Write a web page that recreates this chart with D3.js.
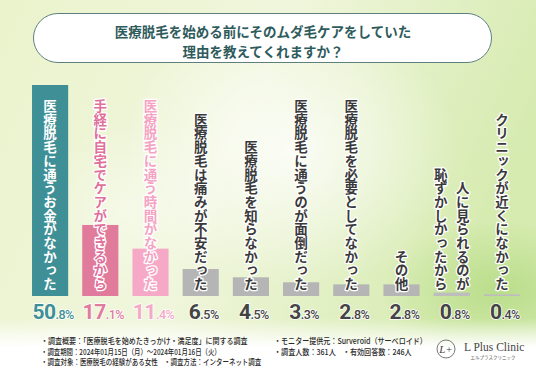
<!DOCTYPE html>
<html>
<head>
<meta charset="utf-8">
<script src="https://cdn.jsdelivr.net/npm/d3@7"></script>
<style>
  body { margin: 0; background: #fff; }
  svg { display: block; }
</style>
</head>
<body>
<svg id="chart"></svg>
<script>
// data
const categories = [
  '医療脱毛に通うお金がなかった',
  '手経に自宅でケアができるから',
  '医療脱毛に通う時間がなかった',
  '医療脱毛は痛みが不安だった',
  '医療脱毛を知らなかった',
  '医療脱毛に通うのが面倒だった',
  '医療脱毛を必要としてなかった',
  'その他',
  '人に見られるのが\n恥ずかしかったから',
  'クリニックが近くになかった'
];
const values = [50.8, 17.1, 11.4, 6.5, 4.5, 3.3, 2.8, 2.8, 0.8, 0.4];
const titleLines = ['医療脱毛を始める前にそのムダ毛ケアをしていた', '理由を教えてくれますか？'];
const footLeft = [
  '・調査概要：「医療脱毛を始めたきっかけ・満足度」に関する調査',
  '・調査期間：2024年01月15日（月）～2024年01月16日（火）',
  '・調査対象：医療脱毛の経験がある女性　・調査方法：インターネット調査'
];
const footRight = [
  '・モニター提供元：Surveroid（サーベロイド）',
  '・調査人数：361人　・有効回答数：246人'
];

// styles
const barColors = ['#3e8f96', '#e07b9c', '#f5a9c6', '#b5b5b5', '#b5b5b5', '#b5b5b5', '#b5b5b5', '#b5b5b5', '#bdbdbd', '#bdbdbd'];
const textFill = ['#ffffff', '#e0709a', '#f4a3c2', '#3a3a3a', '#3a3a3a', '#3a3a3a', '#3a3a3a', '#3a3a3a', '#3a3a3a', '#3a3a3a'];
const textStroke = ['#3e8f96', '#ffffff', '#ffffff', '#ffffff', '#ffffff', '#ffffff', '#ffffff', '#ffffff', '#ffffff', '#ffffff'];
const pctColors = ['#3e8f96', '#e07b9c', '#f5a9c6', '#444', '#444', '#444', '#444', '#444', '#444', '#444'];
const footLeftWidths = [207, 180, 221];
const footRightWidths = [153, 138];

const width = 536;
const height = 371;
const baseY = 296;
const jp = '"Noto Sans CJK JP", "Noto Sans", sans-serif';

const svg = d3.select('#chart')
  .attr('width', width)
  .attr('height', height);

const defs = svg.append('defs');

// background gradients
const bg = defs.append('linearGradient').attr('id', 'bg')
  .attr('x1', 0).attr('y1', 0).attr('x2', 1).attr('y2', 0.3);
bg.append('stop').attr('offset', 0).attr('stop-color', '#ebf3cc');
bg.append('stop').attr('offset', 0.5).attr('stop-color', '#f0f6dc');
bg.append('stop').attr('offset', 1).attr('stop-color', '#d6ebb0');

const glow = defs.append('radialGradient').attr('id', 'glow');
glow.append('stop').attr('offset', 0).attr('stop-color', '#ffffff').attr('stop-opacity', 0.8);
glow.append('stop').attr('offset', 1).attr('stop-color', '#ffffff').attr('stop-opacity', 0);

const green = defs.append('radialGradient').attr('id', 'green');
green.append('stop').attr('offset', 0).attr('stop-color', '#b6dc86').attr('stop-opacity', 0.9);
green.append('stop').attr('offset', 1).attr('stop-color', '#b6dc86').attr('stop-opacity', 0);

const fade = defs.append('linearGradient').attr('id', 'fade')
  .attr('x1', 0).attr('y1', 0).attr('x2', 0).attr('y2', 1);
fade.append('stop').attr('offset', 0).attr('stop-color', '#ffffff').attr('stop-opacity', 0);
fade.append('stop').attr('offset', 0.55).attr('stop-color', '#ffffff').attr('stop-opacity', 1);

svg.append('rect').attr('width', width).attr('height', height).attr('fill', 'url(#bg)');
svg.append('ellipse').attr('cx', 290).attr('cy', 150).attr('rx', 170).attr('ry', 140).attr('fill', 'url(#glow)');
svg.append('ellipse').attr('cx', 500).attr('cy', 290).attr('rx', 120).attr('ry', 70).attr('fill', 'url(#green)');
svg.append('ellipse').attr('cx', 130).attr('cy', 210).attr('rx', 100).attr('ry', 90).attr('fill', 'url(#glow)').attr('opacity', 0.5);
svg.append('rect').attr('x', 0).attr('y', 318).attr('width', width).attr('height', height - 318).attr('fill', 'url(#fade)');

// title
svg.append('rect')
  .attr('x', 33.5).attr('y', 13.5)
  .attr('width', 458).attr('height', 49)
  .attr('rx', 24.5)
  .attr('fill', '#ffffff')
  .attr('stroke', '#5e7f80')
  .attr('stroke-width', 1);

svg.append('g').selectAll('text')
  .data(titleLines)
  .join('text')
  .attr('x', 263)
  .attr('y', (d, i) => 37 + i * 20)
  .attr('text-anchor', 'middle')
  .attr('font-family', jp)
  .attr('font-weight', 'bold')
  .attr('font-size', 13.5)
  .attr('fill', '#2e5b5c')
  .text(d => d);

// scales
const x = d3.scaleBand()
  .domain(categories)
  .range([25, 527])
  .paddingInner(0.28)
  .paddingOuter(0.14);

const y = d3.scaleLinear()
  .domain([0, 50.8])
  .range([baseY, 85]);

// bars
svg.append('g').selectAll('rect')
  .data(categories)
  .join('rect')
  .attr('x', d => x(d))
  .attr('y', (d, i) => y(values[i]))
  .attr('width', x.bandwidth())
  .attr('height', (d, i) => baseY - y(values[i]))
  .attr('fill', (d, i) => barColors[i]);

// vertical labels
const labels = svg.append('g');
categories.forEach((c, i) => {
  const cols = c.split('\n');
  const cx = x(c) + x.bandwidth() / 2;
  cols.forEach((col, j) => {
    const off = cols.length === 1 ? 0 : (j === 0 ? 11 : -11);
    labels.append('text')
      .attr('x', cx + off)
      .attr('y', 291)
      .attr('text-anchor', 'end')
      .attr('font-family', jp)
      .attr('font-weight', 'bold')
      .attr('font-size', 13.5)
      .attr('letter-spacing', 0.2)
      .style('writing-mode', 'vertical-rl')
      .attr('fill', textFill[i])
      .attr('stroke', textStroke[i])
      .attr('stroke-width', 2.6)
      .attr('stroke-linejoin', 'round')
      .attr('paint-order', 'stroke')
      .text(col);
  });
});

// percentages
const pct = svg.append('g').selectAll('text')
  .data(categories)
  .join('text')
  .attr('x', d => x(d) + x.bandwidth() / 2 + 3)
  .attr('y', 319)
  .attr('text-anchor', 'middle')
  .attr('font-family', 'Roboto, sans-serif')
  .attr('font-weight', 'bold')
  .attr('letter-spacing', -0.5)
  .attr('fill', (d, i) => pctColors[i])
  .attr('stroke', '#ffffff')
  .attr('stroke-width', 1.5)
  .attr('paint-order', 'stroke');

pct.append('tspan')
  .attr('font-size', 21)
  .text((d, i) => String(Math.floor(values[i])));
pct.append('tspan')
  .attr('font-size', 12.5)
  .attr('font-weight', 500)
  .text((d, i) => '.' + values[i].toFixed(1).split('.')[1] + '%');

// footer, squeezed horizontally to the widths seen in the picture
function footer(lines, widths, x0) {
  svg.append('g').selectAll('text')
    .data(lines)
    .join('text')
    .attr('font-family', jp)
    .attr('font-size', 8)
    .attr('font-weight', 500)
    .attr('fill', '#2a2a2a')
    .text(d => d)
    .each(function(d, i) {
      const natural = this.getComputedTextLength();
      const sx = widths[i] / natural;
      d3.select(this).attr('transform', `translate(${x0}, ${344 + i * 10.5}) scale(${sx}, 1)`);
    });
}
footer(footLeft, footLeftWidths, 41);
footer(footRight, footRightWidths, 274);

// logo
svg.append('circle')
  .attr('cx', 446).attr('cy', 349).attr('r', 9)
  .attr('fill', 'none').attr('stroke', '#555').attr('stroke-width', 0.8);
svg.append('text')
  .attr('x', 446).attr('y', 353)
  .attr('text-anchor', 'middle')
  .attr('font-family', '"Liberation Serif", serif')
  .attr('font-style', 'italic')
  .attr('font-size', 11)
  .attr('fill', '#444')
  .text('L+');
svg.append('text')
  .attr('x', 464).attr('y', 351)
  .attr('font-family', '"Liberation Serif", serif')
  .attr('font-size', 11.5)
  .attr('fill', '#444')
  .text('L Plus Clinic');
svg.append('text')
  .attr('x', 493).attr('y', 359)
  .attr('text-anchor', 'middle')
  .attr('font-family', jp)
  .attr('font-size', 4.5)
  .attr('fill', '#555')
  .text('エルプラスクリニック');
</script>
</body>
</html>
